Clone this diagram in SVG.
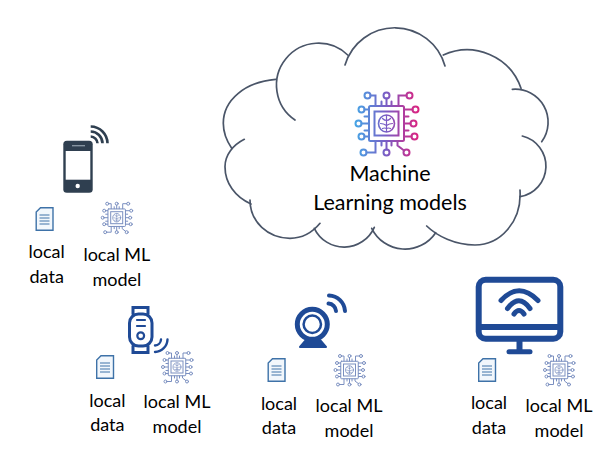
<svg xmlns="http://www.w3.org/2000/svg" xmlns:xlink="http://www.w3.org/1999/xlink" width="611" height="458" viewBox="0 0 611 458">
<style>
text{font-family:"Lato","Open Sans","Liberation Sans",sans-serif;fill:#000;text-anchor:middle}
.big{font-size:21.5px}
.lbl{font-size:18px}
.cl{fill:none;stroke:#4a5568;stroke-width:1.7;stroke-linecap:round}
.nv{fill:none;stroke:#1f4a96;stroke-linecap:round}
.ph{fill:none;stroke:#2f3f50;stroke-width:2.6}
</style>
<defs>
<linearGradient id="g" gradientUnits="userSpaceOnUse" x1="-32" y1="0" x2="32" y2="0">
<stop offset="0" stop-color="#45a6e6"/><stop offset=".5" stop-color="#7a5cc4"/><stop offset="1" stop-color="#dc2380"/>
</linearGradient>
<g id="chip" fill="none" stroke-width="2" stroke-linecap="round">
<rect x="-17.5" y="-17.5" width="35" height="35" rx="1.5"/>
<rect x="-12" y="-12" width="24" height="24"/>
<ellipse cx="0" cy="0" rx="8" ry="8.5" stroke-width="1.6"/>
<path stroke-width="1.2" d="M0-8V8M-4-5Q-2-3 0-3M4-5Q2-3 0-3M-6 0Q-3 0 0 2M6 0Q3 0 0 2M-4 5Q-2 4 0 5M4 5Q2 4 0 5"/>
<circle cx="-19" cy="-28" r="3"/><circle cx="0" cy="-28" r="3"/><circle cx="23" cy="-28" r="3"/>
<circle cx="29" cy="-14" r="3"/><circle cx="27" cy="0" r="3"/><circle cx="28" cy="13" r="3"/>
<circle cx="-25" cy="-14" r="3"/><circle cx="-28" cy="0" r="3"/><circle cx="-25" cy="13" r="3"/>
<circle cx="-23" cy="29" r="3"/><circle cx="0" cy="29" r="3"/><circle cx="20" cy="29" r="3"/>
<path d="M-16-28H-11V-18M0-25V-18M20-28H12V-18M-5-22V-18M5-22V-18M26-14H18M24 0H18M25 13H18M18-7H22M18 7H22M-22-14H-18M-25 0H-18M-22 13H-18M-22-7H-18M-22 7H-18M-20 29H-11V18M0 26V18M17.500 27L11 22V18M-5 18V22M5 18V22"/>
</g>
<g id="doc">
<path d="M5 .7H17.500V23.300H.7V5Z" fill="#f2f7fc" stroke="#3e72a8" stroke-width="1.4"/>
<path d="M4 8H14M4 11H14M4 14H14M4 17H14" stroke="#3e72a8" stroke-width="1"/>
</g>
</defs>
<rect width="611" height="458" fill="#fff"/>

<g id="connectors"/>

<g id="cloud">
<path class="cl" d="M295 120A42 42 0 1 1 347.700 55"/>
<path class="cl" d="M345 65A52 52 0 0 1 445 66"/>
<path class="cl" d="M443.300 55A57 57 0 0 1 521 88.300"/>
<path class="cl" d="M512.300 89.300A33 33 0 0 1 541.700 141.700"/>
<path class="cl" d="M522.300 136A31 31 0 0 1 520 196.700"/>
<path class="cl" d="M520 190C522 222 500 245 475 245C455 245 437 236 426.700 226"/>
<path class="cl" d="M435.700 232.700A37 37 0 0 1 371.700 228.300"/>
<path class="cl" d="M374.300 227.300A33 33 0 0 1 314.300 228.300"/>
<path class="cl" d="M320 223.300C312 233 302 238.300 290 238.300C268 238 250 222 250 200"/>
<path class="cl" d="M251 204C235 197 225 183 225 166.700C225 155 233 145 244.300 139.300"/>
<path class="cl" d="M231.700 148.300C226 140 223.300 132 223.300 123.300C223.300 100 245 82 275.700 79.300"/>
<use href="#chip" transform="translate(386.500 123.500)" stroke="url(#g)"/>
<text class="big" x="390" y="180.500">Machine</text>
<text class="big" x="390" y="209.500">Learning models</text>
</g>

<g id="phone">
<rect x="63.300" y="140.700" width="29.400" height="52" rx="3.500" fill="#2f3f50"/>
<rect x="65.700" y="151" width="24.600" height="28.700" fill="#fff"/>
<path d="M72 145.700H85" stroke="#8c99a6" stroke-width="1.300"/>
<circle cx="77.700" cy="186" r="2.200" fill="#fff"/>
<path class="ph" d="M90.700 126.500A17 17 0 0 1 107.500 143.300M90.700 131.500A12 12 0 0 1 102.500 143.300M90.700 136.500A7 7 0 0 1 97.500 143.300"/>
<use href="#doc" transform="translate(35.500 207)"/>
<use href="#chip" transform="translate(116.700 217.700) scale(.5)" stroke="#7a8fc0"/>
<text class="lbl" x="46.700" y="258.300">local</text><text class="lbl" x="46.700" y="283.300">data</text>
<text class="lbl" x="116.800" y="261">local ML</text><text class="lbl" x="116.800" y="286">model</text>
</g>

<g id="watch">
<rect x="129.500" y="314" width="22.500" height="32" rx="9" class="nv" stroke-width="3"/>
<path d="M133 314V307.500H148V314M133 346V352.500H148V346" class="nv" stroke-width="3"/>
<path d="M137 320H145M137 326H145" class="nv" stroke-width="2.200"/>
<circle cx="140.700" cy="335.700" r="3.400" class="nv" stroke-width="2.200"/>
<path d="M155 352A13 13 0 0 0 167.500 339.500M155 345.500A6.500 6.500 0 0 0 161 339.500" class="nv" stroke-width="2.400"/>
<use href="#doc" transform="translate(96 355)"/>
<use href="#chip" transform="translate(177 367) scale(.5)" stroke="#7a8fc0"/>
<text class="lbl" x="107.300" y="406.700">local</text><text class="lbl" x="107.300" y="430.700">data</text>
<text class="lbl" x="177" y="408.300">local ML</text><text class="lbl" x="177" y="433.300">model</text>
</g>

<g id="webcam">
<circle cx="312.300" cy="324.300" r="15" class="nv" stroke-width="5"/>
<circle cx="312.300" cy="324.300" r="8.700" class="nv" stroke-width="2.500"/>
<path d="M306 340L300 347H326L320 340Z" fill="#1f4a96" stroke="#1f4a96" stroke-width="2" stroke-linejoin="round"/>
<path d="M329 295.500A16.500 16.500 0 0 1 345 311M328.500 303.500A8 8 0 0 1 336 311" class="nv" stroke-width="4"/>
<use href="#doc" transform="translate(267.500 358)"/>
<use href="#chip" transform="translate(349.500 370) scale(.5)" stroke="#7a8fc0"/>
<text class="lbl" x="279" y="410">local</text><text class="lbl" x="279" y="434.300">data</text>
<text class="lbl" x="349" y="411.700">local ML</text><text class="lbl" x="349" y="436.700">model</text>
</g>

<g id="monitor">
<rect x="478.700" y="279.700" width="81.600" height="59" rx="7" class="nv" stroke-width="6" stroke-linecap="butt"/>
<path d="M479 327H560" stroke="#1f4a96" stroke-width="6"/>
<path d="M519.500 341V350" stroke="#1f4a96" stroke-width="6"/>
<path d="M509 351.700H530" class="nv" stroke-width="5"/>
<path d="M501 300.500Q519 281 538 300.500M507.500 308.500Q519 293 530 308.500M514 314Q519 307 524 314" class="nv" stroke-width="5"/>
<use href="#doc" transform="translate(478 358)"/>
<use href="#chip" transform="translate(559 370) scale(.5)" stroke="#7a8fc0"/>
<text class="lbl" x="489" y="409">local</text><text class="lbl" x="489" y="434.300">data</text>
<text class="lbl" x="559" y="411.700">local ML</text><text class="lbl" x="559" y="436.700">model</text>
</g>
</svg>
